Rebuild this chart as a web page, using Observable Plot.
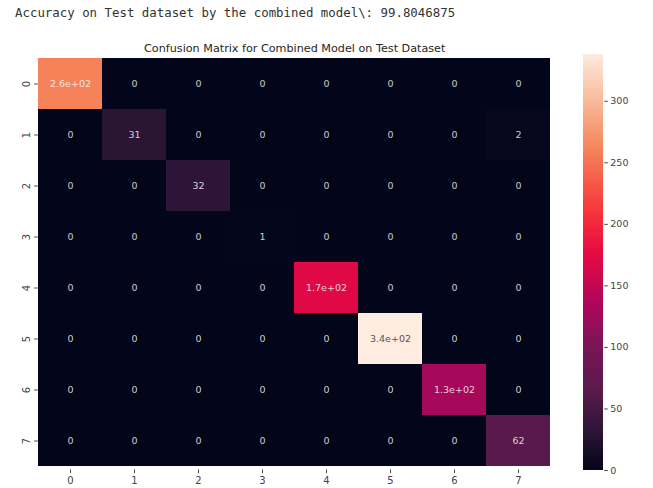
<!DOCTYPE html>
<html>
<head>
<meta charset="utf-8">
<script src="https://cdn.jsdelivr.net/npm/d3@7"></script>
<script src="https://cdn.jsdelivr.net/npm/@observablehq/plot@0.6"></script>
<style>
  html, body { margin: 0; padding: 0; background: #fff; }
  #wrap { position: relative; width: 653px; height: 488px; overflow: hidden; }
  #wrap svg { position: absolute; left: 0; top: 0; }
  #acc {
    position: absolute; left: 15px; top: 5px;
    font-family: "DejaVu Sans Mono", monospace; font-size: 12.4px;
    color: #333; white-space: pre;
  }
</style>
</head>
<body>
<div id="wrap"><div id="acc"></div></div>
<script>
// Class labels (true label on rows, predicted label on columns)
const classLabels = ["0", "1", "2", "3", "4", "5", "6", "7"];

// Confusion matrix counts, one array per true class
const row0 = [259, 0, 0, 0, 0, 0, 0, 0];
const row1 = [0, 31, 0, 0, 0, 0, 0, 2];
const row2 = [0, 0, 32, 0, 0, 0, 0, 0];
const row3 = [0, 0, 0, 1, 0, 0, 0, 0];
const row4 = [0, 0, 0, 0, 170, 0, 0, 0];
const row5 = [0, 0, 0, 0, 0, 338, 0, 0];
const row6 = [0, 0, 0, 0, 0, 0, 129, 0];
const row7 = [0, 0, 0, 0, 0, 0, 0, 62];
const rows = [row0, row1, row2, row3, row4, row5, row6, row7];

const colorbarTicks = [0, 50, 100, 150, 200, 250, 300];
const accuracy = 99.8046875;
const titleText = "Confusion Matrix for Combined Model on Test Dataset";

// Long-form table for the cell mark
const cells = rows.flatMap((r, i) => r.map((v, j) => ({truth: classLabels[i], pred: classLabels[j], value: v})));
const vmax = d3.max(cells, d => d.value);

// rocket-like colour ramp
const rocketStops = [
  [0.00, "#03051a"], [0.09, "#2a1535"], [0.18, "#561a4a"], [0.30, "#7c1458"],
  [0.40, "#b0065a"], [0.52, "#e80a42"], [0.62, "#f6353a"], [0.77, "#f5845a"],
  [0.90, "#f9c0a2"], [1.00, "#fdecdf"]
];
const rocket = d3.scaleLinear()
  .domain(rocketStops.map(d => d[0]))
  .range(rocketStops.map(d => d[1]))
  .interpolate(d3.interpolateRgb)
  .clamp(true);
const colorScale = {type: "linear", domain: [0, vmax], interpolate: t => rocket(t)};

// ".2g"-style annotation text
function fmt2g(v) {
  if (Math.abs(v) >= 100) {
    const [m, e] = v.toExponential(1).split("e");
    const sign = e[0];
    const digits = e.slice(1).padStart(2, "0");
    return m + "e" + sign + digits;
  }
  return String(v);
}
function textColor(v) {
  const c = d3.rgb(rocket(v / vmax));
  const lin = x => { x /= 255; return x <= 0.03928 ? x / 12.92 : Math.pow((x + 0.055) / 1.055, 2.4); };
  const lum = 0.2126 * lin(c.r) + 0.7152 * lin(c.g) + 0.0722 * lin(c.b);
  return lum > 0.408 ? "#262626" : "#ffffff";
}

document.getElementById("acc").textContent = "Accuracy on Test dataset by the combined model\\: " + accuracy;

const W = 653, H = 488;
const fontFamily = "DejaVu Sans, sans-serif";

const heat = Plot.plot({
  width: W, height: H,
  marginLeft: 37.7, marginRight: 102.3, marginTop: 54, marginBottom: 18.5,
  style: {fontFamily, background: "transparent"},
  x: {type: "band", domain: classLabels, padding: 0, label: null},
  y: {type: "band", domain: classLabels, padding: 0, label: null},
  color: colorScale,
  marks: [
    Plot.cell(cells, {x: "pred", y: "truth", fill: "value", inset: 0}),
    Plot.text(cells, {
      x: "pred", y: "truth", text: d => fmt2g(d.value),
      fill: d => textColor(d.value), fontSize: 9.5, fillOpacity: 0.8
    }),
    Plot.axisX({tickSize: 3.5, tickPadding: 3, fontSize: 10, color: "#444", label: null}),
    Plot.axisY({tickSize: 3.5, tickPadding: 5, fontSize: 10, color: "#444", label: null, tickRotate: -90}),
    Plot.text([titleText], {frameAnchor: "top", dy: -10, fontSize: 11.2, fill: "#262626"})
  ]
});

// Colour bar: thin slices across the colour domain
const ramp = d3.range(0, Math.ceil(vmax)).map(v => ({v0: v, v1: Math.min(v + 1, vmax)}));
const bar = Plot.plot({
  width: W, height: H,
  marginLeft: 582.7, marginRight: 49.7, marginTop: 54, marginBottom: 18,
  style: {fontFamily, background: "transparent"},
  x: {domain: [0, 1], axis: null},
  y: {domain: [0, vmax], label: null},
  color: colorScale,
  marks: [
    Plot.rect(ramp, {x1: 0, x2: 1, y1: "v0", y2: "v1", fill: "v0", inset: 0, shapeRendering: "crispEdges"}),
    Plot.axisY({anchor: "right", ticks: colorbarTicks, tickSize: 3.5, tickPadding: 3, fontSize: 9.5, color: "#444", label: null})
  ]
});

const wrap = document.getElementById("wrap");
wrap.insertBefore(heat, wrap.firstChild);
wrap.insertBefore(bar, heat.nextSibling);
</script>
</body>
</html>
